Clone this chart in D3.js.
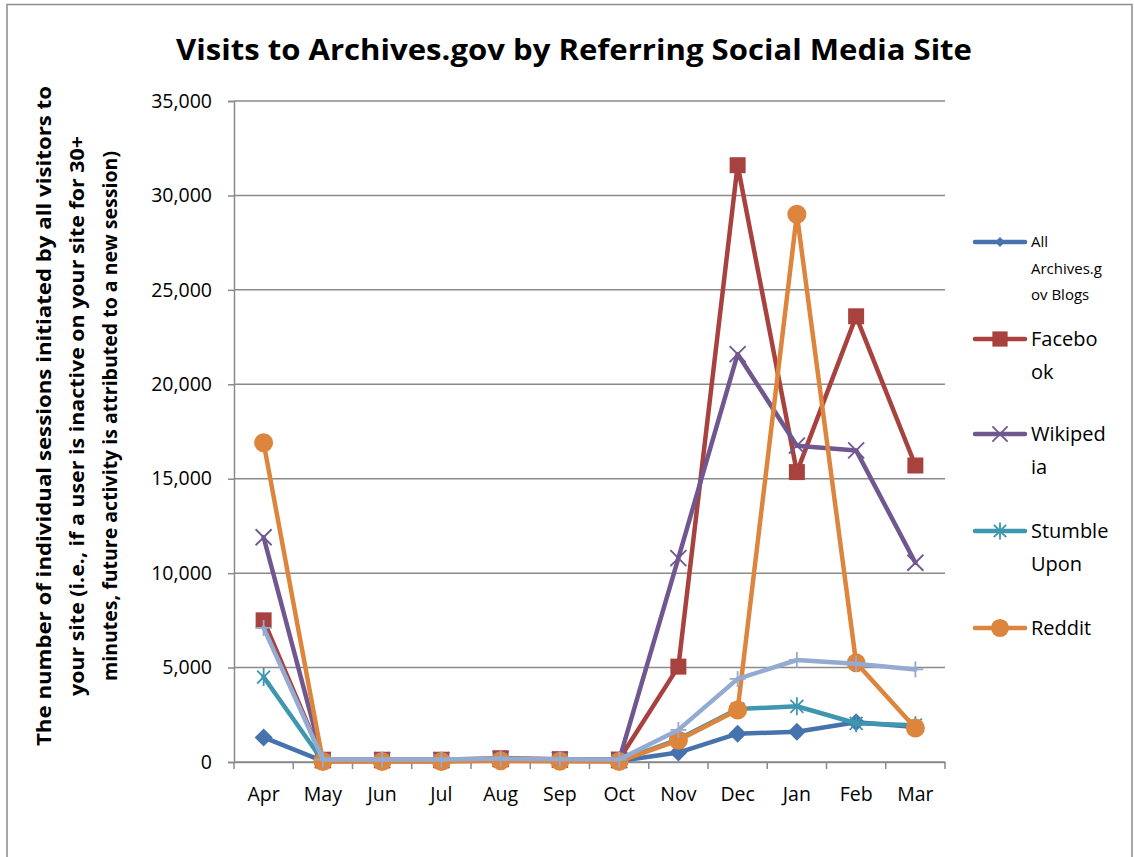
<!DOCTYPE html>
<html><head><meta charset="utf-8">
<script src="https://cdn.jsdelivr.net/npm/d3@7"></script>
<style>body{margin:0;background:#fff}svg{display:block}</style>
</head><body>
<script>
const months = ["Apr","May","Jun","Jul","Aug","Sep","Oct","Nov","Dec","Jan","Feb","Mar"];
const yTicks = [0,5000,10000,15000,20000,25000,30000,35000];
const blogs     = [1300, 50, 50, 50, 80, 60, 50, 500, 1500, 1600, 2100, 1850];
const facebook  = [7500, 120, 120, 120, 200, 150, 130, 5050, 31600, 15350, 23600, 15700];
const wikipedia = [11900, 100, 100, 100, 150, 120, 100, 10800, 21600, 16750, 16500, 10550];
const stumble   = [4500, 50, 50, 50, 100, 80, 60, 1200, 2800, 2950, 2050, 1950];
const reddit    = [16900, 30, 30, 30, 60, 40, 30, 1150, 2750, 29000, 5250, 1800];
const other     = [7100, 130, 130, 130, 180, 150, 130, 1700, 4400, 5400, 5200, 4900];
const seriesNames = ["All Archives.gov Blogs","Facebook","Wikipedia","Stumble Upon","Reddit",""];
const legendLines = [["All","Archives.g","ov Blogs"],["Facebo","ok"],["Wikiped","ia"],["Stumble","Upon"],["Reddit"]];
const colors = ["#4673AD","#A8423F","#71578F","#3E97AF","#DD853C","#93AAD2"];
const markers = ["diamond","square","x","star","circle","plus"];
const series = [blogs, facebook, wikipedia, stumble, reddit, other];

(function(){
const W = 1134, H = 857;
const svg = d3.select("body").append("svg").attr("width", W).attr("height", H);
const font = "'Open Sans', 'Liberation Sans', sans-serif";

svg.append("rect").attr("x",7).attr("y",4.5).attr("width",1125).attr("height",870)
  .attr("fill","#fff").attr("stroke","#8c8c8c").attr("stroke-width",1.5);

const pl = 234, pr = 945, pt = 101, pb = 762;
const x = d3.scaleBand().domain(months).range([pl, pr]);
const y = d3.scaleLinear().domain([0, 35000]).range([pb, pt]);

svg.append("g").selectAll("line").data(yTicks).join("line")
  .attr("x1", pl).attr("x2", pr)
  .attr("y1", d => y(d)).attr("y2", d => y(d))
  .attr("stroke", "#8a8a8a").attr("stroke-width", 1.5);

const yAxis = svg.append("g").attr("transform", `translate(${pl},0)`)
  .call(d3.axisLeft(y).tickValues(yTicks).tickFormat(d3.format(",")).tickSize(6).tickPadding(16));
yAxis.select(".domain").attr("stroke","#8a8a8a").attr("stroke-width",1.5);
yAxis.selectAll(".tick line").attr("stroke","#8a8a8a").attr("stroke-width",1.5);
yAxis.selectAll("text").attr("font-family", font).attr("font-size", 19.5).attr("fill","#000");

const xAxis = svg.append("g").attr("transform", `translate(0,${pb})`)
  .call(d3.axisBottom(x).tickSize(0).tickPadding(25));
xAxis.select(".domain").attr("stroke","#8a8a8a").attr("stroke-width",1.5);
xAxis.selectAll("text").attr("font-family", font).attr("font-size", 19.5).attr("fill","#000");
const bounds = months.map(m => x(m)).concat([pr]);
svg.append("g").selectAll("line").data(bounds).join("line")
  .attr("x1", d => d).attr("x2", d => d).attr("y1", pb).attr("y2", pb + 7)
  .attr("stroke","#8a8a8a").attr("stroke-width",1.5);

const cx = m => x(m) + x.bandwidth()/2;

function drawMarker(g, type, color, px, py, scale) {
  const s = scale || 1;
  if (type === "diamond") {
    const r = 9*s;
    g.append("path").attr("d", `M${px},${py-r}L${px+r},${py}L${px},${py+r}L${px-r},${py}Z`).attr("fill", color);
  } else if (type === "square") {
    const r = 8*s;
    g.append("rect").attr("x", px-r).attr("y", py-r).attr("width", 2*r).attr("height", 2*r).attr("fill", color);
  } else if (type === "circle") {
    g.append("circle").attr("cx", px).attr("cy", py).attr("r", 9.5*s).attr("fill", color);
  } else if (type === "x") {
    const r = 8*s;
    g.append("path").attr("d", `M${px-r},${py-r}L${px+r},${py+r}M${px-r},${py+r}L${px+r},${py-r}`)
      .attr("stroke", color).attr("stroke-width", 1.8).attr("fill","none");
  } else if (type === "star") {
    const r = 9*s;
    const a = r*0.72;
    g.append("path").attr("d", `M${px-a},${py-a}L${px+a},${py+a}M${px-a},${py+a}L${px+a},${py-a}M${px},${py-r}L${px},${py+r}`)
      .attr("stroke", color).attr("stroke-width", 1.8).attr("fill","none");
  } else if (type === "plus") {
    const r = 8*s;
    g.append("path").attr("d", `M${px-r},${py}L${px+r},${py}M${px},${py-r}L${px},${py+r}`)
      .attr("stroke", color).attr("stroke-width", 1.8).attr("fill","none");
  }
}

const line = d3.line().x((d,i) => cx(months[i])).y(d => y(d));
series.forEach((vals, si) => {
  const g = svg.append("g");
  g.append("path").datum(vals).attr("d", line).attr("fill","none")
    .attr("stroke", colors[si]).attr("stroke-width", 4.5).attr("stroke-linejoin","round").attr("stroke-linecap","round");
  vals.forEach((v, i) => drawMarker(g, markers[si], colors[si], cx(months[i]), y(v)));
});

const legendY = [242, 339, 434, 531, 628];
const legendSize = [15, 20, 20, 20, 20];
const legendLH = [26.5, 33, 33, 33, 33];
legendLines.forEach((lines, i) => {
  const g = svg.append("g");
  const ly = legendY[i];
  g.append("line").attr("x1", 975).attr("x2", 1025).attr("y1", ly).attr("y2", ly)
    .attr("stroke", colors[i]).attr("stroke-width", 4.5).attr("stroke-linecap","round");
  drawMarker(g, markers[i], colors[i], 1000, ly, i === 0 ? 0.55 : 0.95);
  lines.forEach((t, k) => {
    g.append("text").attr("x", 1031).attr("y", ly + k*legendLH[i]).attr("dy","0.35em")
      .attr("font-family", font).attr("font-size", legendSize[i]).attr("fill","#000").text(t);
  });
});

svg.append("text").attr("x", 574).attr("y", 60).attr("text-anchor","middle")
  .attr("font-family", font).attr("font-weight","bold").attr("font-size", 28)
  .attr("textLength", 796).attr("lengthAdjust","spacingAndGlyphs")
  .text("Visits to Archives.gov by Referring Social Media Site");

const yTitle = ["The number of individual sessions initiated by all visitors to",
  "your site (i.e., if a user is inactive on your site for 30+",
  "minutes, future activity is attributed to a new session)"];
const yTitleX = [44, 77, 110];
const yTitleLen = [660, 560, 530];
yTitle.forEach((t, k) => {
  svg.append("text").attr("transform", `translate(${yTitleX[k]},${416}) rotate(-90)`)
    .attr("text-anchor","middle").attr("dy","0.35em")
    .attr("font-family", font).attr("font-weight","bold").attr("font-size", 19)
    .attr("textLength", yTitleLen[k]).attr("lengthAdjust","spacingAndGlyphs").text(t);
});
})();
</script>
</body></html>
